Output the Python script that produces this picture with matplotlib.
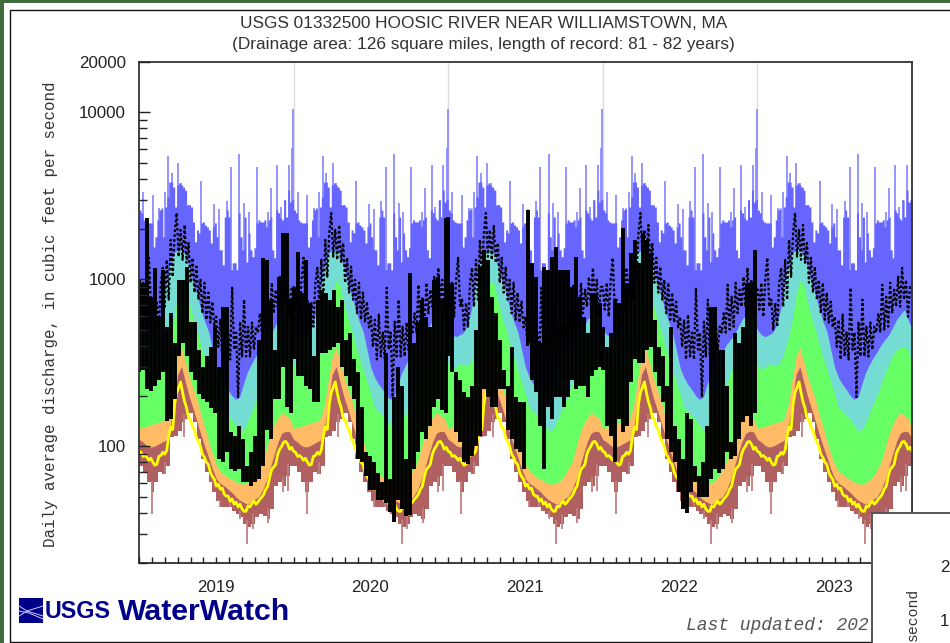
import numpy as np
import matplotlib
matplotlib.use('Agg')
import matplotlib.pyplot as plt
from matplotlib.patches import Rectangle

W, H = 950, 643

years = ['2019', '2020', '2021', '2022', '2023']
year_len = 365.25

# percentile bands for one year, cubic feet per second, one value every ~9 days
p25 = [128,130,132,134,137,139,141,147,178,251,345,390,322,262,222,191,155,130,107,90,
       78,71,68,65,63.5,61,60,59.3,60,62.7,66,73,80,97,118,135,149,159,153,147]
p10 = [110,106,101,99,100,103,106,109,130,185,269,300,243,198,168,141,118,100,86,73,
       64,60,58,55.4,53,50,47.6,46.3,45,46.3,48.3,50,54.7,62.7,75,90,107,120,123,122]
p_min = [76,70,61,53,61,70,68,76,113,115,123,139,145,159,139,110,83.6,70,61,53,
         47,43.3,43.3,43.3,41,39.3,37.9,34.2,33,34.2,37.9,39.3,38.2,36.7,42,58,61,58,66,76]
p75 = [309,288,296,313,305,305,322,369,448,573,808,993,915,722,590,500,406,341,288,243,
       207,170,162,153,145,134,124,126,139,159,180,204,235,277,309,354,379,390,396,379]
p90 = [500,466,453,466,480,535,658,927,1221,1440,1501,1501,1401,1172,953,808,658,557,486,379,
       296,258,235,219,201,191,197,235,277,309,341,369,406,435,466,515,573,614,658,573]

# solid top of the blue band, one value every ~4.7 days
p_max = [2600,2500,2267,2205,2175,2175,2175,1560,1795,2267,2600,2670,1795,2710,3110,3820,3820,3565,2710,3665,
         3770,3665,3565,3420,2790,2790,2710,2205,1675,1975,1895,2175,2205,2115,2060,1975,1650,2060,2175,1795,
         1500,1500,1220,2360,2600,2360,1140,1255,1255,1140,2500,1795,1500,2360,1270,1895,1500,1365,1545,2175,
         2267,2205,2205,2267,2060,2267,2360,1500,1345,2600,2500,2330,2267,2985,2360,3420,2900,3000]

# single highest days above the blue band
spike_day = [10,32,48,61,69,77,92,100,107,119,130,140,147,177,189,207,218,237,248,259,278,304,311,326,335,345,354]
spike_val = [3330,3195,2670,3330,5480,4320,4970,3770,3515,2790,2175,1895,3870,2830,2635,2940,4700,5615,2870,2520,
             4700,2520,3515,4830,2710,2985,4830]
# the big ones on the turn of the year, not shown at the right edge
turn_day = [362, 364]
turn_val = [6100, 10400]

# lowest days below the brown band
low_day = [31,61,106,191,215,239,255,269,305,340,352]
low_val = [39.3,67.8,113,43.3,43.3,36.7,26,32,34.8,53,54]

# dashed black statistic, zigzags, one value every ~4.7 days
dash_val = [900,658,953,597,993,1345,685,755,500,722,520,953,1172,685,1308,755,1722,1035,1895,2495,
            1365,1976,1308,2115,1255,1650,953,1345,832,1190,755,993,626,953,573,832,551,735,515,597,
            393,573,331,614,345,480,331,890,379,480,197,557,345,755,345,520,345,551,379,520,
            480,626,480,927,500,785,520,953,626,866,685,1035,685,1172,755,993,597,900]

# dashed yellow statistic
yellow_val = [93.3,92,87,88,85.8,82.5,84.8,80.2,77,78,87,88,92,89.6,94.6,115,130,126,178,210,
              225,243,210,185,170,148,145,130,126,113,106,100,89.6,86,80.2,78,70,66,63.5,57.7,
              59.3,55.4,56.2,51.7,50.3,50.3,46.9,48.3,45,46.3,43.3,45,42.1,40.8,40.8,43.9,43.3,45.6,46.9,45,
              46.3,48.3,49.6,51.7,55.4,57.7,66,72.9,75,78,89.6,96,100,106,107,103,96,98.6]

# daily flow, highs and lows per column, about every 9.45 days
black_hi_2019 = [993,953,2330,785,1172,597,1140,520,626,417,993,993,1190,551,551,379,300,345,393,520,
                 300,685,685,121,115,132,110,76,92,115,435,1345,1308,755,379,1035,1895,1895,755]
black_lo_2019 = [277,288,219,215,228,251,277,141,145,191,345,417,345,277,251,205,191,183,170,159,
                 84,80,92,73,71,73,61,61,58,61,63.5,76,126,110,191,191,300,173,159]
black_hi_2020 = [900,1450,832,1308,722,345,755,866,832,755,866,685,755,435,480,331,277,173,92,87,
                 80,69,61,363,63.5,198,300,228,84,1090,417,551,755,597,520,993,1035,755,2330]
black_lo_2020 = [331,262,262,228,219,183,183,363,363,379,393,417,300,262,228,191,84,80,66,55,
                 55,48,48,46,40.4,35,48,42,38,39,73,92,121,110,132,173,191,166,159]
black_hi_2021 = [2360,953,277,251,210,198,228,500,1190,1501,1308,785,626,435,288,228,393,198,183,183,
                 2600,1255,1035,417,1190,1140,1365,1560,1140,1140,1140,900,1365,785,597,480,832,832,722]
black_lo_2021 = [345,277,121,106,80,78,87,100,115,219,198,173,173,219,219,126,110,96,92,73,
                 417,251,210,132,73,173,145,198,198,173,198,251,219,228,228,198,262,288,300]
black_hi_2022 = [520,393,480,755,722,2020,953,1440,1722,1255,1895,1722,1440,573,393,345,228,520,132,110,
                 84,159,145,76,66,80,132,685,685,379,379,228,106,480,417,520,953,953,1501]
black_lo_2022 = [288,132,115,80,145,121,132,241,331,316,316,379,393,277,228,183,110,92,80,53,
                 42,40,53,61,50,50,50,63.5,73,69,73,92,84,87,110,139,151,132,159]

black_hi = [black_hi_2019, black_hi_2020, black_hi_2021, black_hi_2022]
black_lo = [black_lo_2019, black_lo_2020, black_lo_2021, black_lo_2022]

starts = np.arange(5) * year_len
end = 5 * year_len


def one_year_days(n):
    return np.arange(n) * year_len / n


def repeat(vals):
    # the statistics are the same every year
    d = one_year_days(len(vals))
    xx = np.concatenate([s + d for s in starts] + [[end]])
    yy = np.concatenate([vals] * 5 + [vals[:1]])
    return xx, yy


fig = plt.figure(figsize=(W / 100, H / 100), dpi=100, facecolor='white')

# page behind the chart
bg = fig.add_axes([0, 0, 1, 1], zorder=0)
bg.set_xlim(0, W)
bg.set_ylim(H, 0)
bg.axis('off')
bg.add_patch(Rectangle((0, 0), W, 3, color='#3f6b3f', lw=0))
bg.add_patch(Rectangle((0, 0), 4, H, color='#3f6b3f', lw=0))
bg.plot([W, 9.5, 9.5, W], [9.5, 9.5, 641.5, 641.5], color='#111111', lw=1)

ax = fig.add_axes([139 / W, 1 - 563 / H, (912 - 139) / W, (563 - 62) / H], zorder=1)
ax.set_yscale('log')
ax.set_xlim(0, end)
ax.set_ylim(20, 20000)

ax.vlines(starts[1:], 20, 20000, color='#dddddd', lw=1, zorder=1)

for s in starts:
    ax.vlines(s + np.array(spike_day), 500, spike_val, color='#8c8cff', lw=1.3, zorder=2)
for s in starts[:-1]:
    ax.vlines(s + np.array(turn_day), 500, turn_val, color='#8c8cff', lw=1.3, zorder=2)

xx, yy = repeat(p_max)
ax.fill_between(xx, 20, yy, step='post', color='#6666ff', lw=0, zorder=3)
xx, yy = repeat(p90)
ax.fill_between(xx, 20, yy, color='#74dcd2', lw=0, zorder=4)
xx, yy = repeat(p75)
ax.fill_between(xx, 20, yy, color='#66ff66', lw=0, zorder=5)
xx, yy = repeat(p25)
ax.fill_between(xx, 20, yy, color='#ffbb66', lw=0, zorder=6)
xx, yy = repeat(p10)
ax.fill_between(xx, 20, yy, color='#b06060', lw=0, zorder=7)
xx, yy = repeat(p_min)
ax.fill_between(xx, 20, yy, step='post', color='white', lw=0, zorder=8)
low_top = np.interp(low_day, one_year_days(len(p_min)), p_min)
for s in starts:
    ax.vlines(s + np.array(low_day), low_val, low_top * 1.1, color='#c08080', lw=1.3, zorder=8.5)

xx, yy = repeat(yellow_val)
ax.plot(xx, yy, color='#ffff00', lw=2, zorder=9)

xx, yy = repeat(dash_val)
ax.plot(xx, yy, color='black', lw=1.6, ls=(0, (1.2, 1)), zorder=10)

for s, hi, lo in zip(starts, black_hi, black_lo):
    cols = s + np.arange(len(hi)) * 9.45
    ax.vlines(cols, lo, hi, color='black', lw=2.8, zorder=11)

# axis furniture
ax.xaxis.set_zorder(20)
ax.yaxis.set_zorder(20)
ax.set_xticks(np.arange(0, 60) * year_len / 12)
ax.tick_params(axis='x', which='major', direction='in', length=4, width=1, color='#222222',
               labelbottom=False)
ax.set_yticks([100, 1000, 10000, 20000])
ax.set_yticklabels(['100', '1000', '10000', '20000'], family='Liberation Sans', fontsize=12.2, color='#222222')
ax.set_yticks([m * d for d in (10, 100, 1000) for m in range(2, 10)], minor=True)
ax.set_yticklabels([], minor=True)
ax.tick_params(axis='y', which='major', direction='in', length=8, width=1, pad=9.4, color='#222222')
ax.tick_params(axis='y', which='minor', direction='in', length=5.5, width=1, color='#222222')
for sp in ax.spines.values():
    sp.set_linewidth(1.3)
    sp.set_color('#333333')
    sp.set_zorder(20)

# everything placed by page position
fg = fig.add_axes([0, 0, 1, 1], zorder=2)
fg.set_xlim(0, W)
fg.set_ylim(H, 0)
fg.axis('off')
fg.patch.set_alpha(0)

fg.text(483.5, 23, 'USGS 01332500 HOOSIC RIVER NEAR WILLIAMSTOWN, MA', ha='center', va='center',
        family='Liberation Sans', fontsize=12.4, color='#333333')
fg.text(483.5, 44, '(Drainage area: 126 square miles, length of record: 81 - 82 years)', ha='center', va='center',
        family='Liberation Sans', fontsize=12.4, color='#333333')
fg.text(51, 314, 'Daily average discharge, in cubic feet per second', rotation=90, ha='center', va='center',
        family='Liberation Mono', fontsize=11.4, color='#333333')

for i, y in enumerate(years):
    fg.text(216 + i * 154.5, 588, y, ha='center', va='center', family='Liberation Sans',
            fontsize=12.2, color='#222222')

# logo
fg.add_patch(Rectangle((19, 598), 24, 25, color='#00008b', lw=0))
fg.plot([19, 27, 43], [606, 611, 606], color='#c8c8ff', lw=0.7)
fg.plot([19, 27, 43], [616, 611, 616], color='#c8c8ff', lw=0.7)
fg.plot([19, 29, 43], [611, 613, 619], color='#c8c8ff', lw=0.7)
fg.text(45, 612, 'USGS', ha='left', va='center', family='Liberation Sans', weight='bold',
        fontsize=16.8, color='#00008b')
fg.text(118, 612, 'WaterWatch', ha='left', va='center', family='Liberation Sans', weight='bold',
        fontsize=21.8, color='#00008b')

fg.text(686, 625, 'Last updated: 202', ha='left', va='center', family='Liberation Mono', style='italic',
        fontsize=13, color='#555555')

# corner of the next chart lying over this one
fg.add_patch(Rectangle((872, 513), 100, 150, facecolor='white', edgecolor='#555555', lw=1.4, zorder=5))
fg.text(940, 568, '2', ha='left', va='center', family='Liberation Sans', fontsize=12.2, color='#222222', zorder=6)
fg.text(940, 621, '1', ha='left', va='center', family='Liberation Sans', fontsize=12.2, color='#222222', zorder=6)
fg.text(913, 588, 'second', rotation=90, ha='center', va='top', family='Liberation Mono', fontsize=10.6,
        color='#333333', zorder=6)

fig.savefig('out.png', dpi=100)
